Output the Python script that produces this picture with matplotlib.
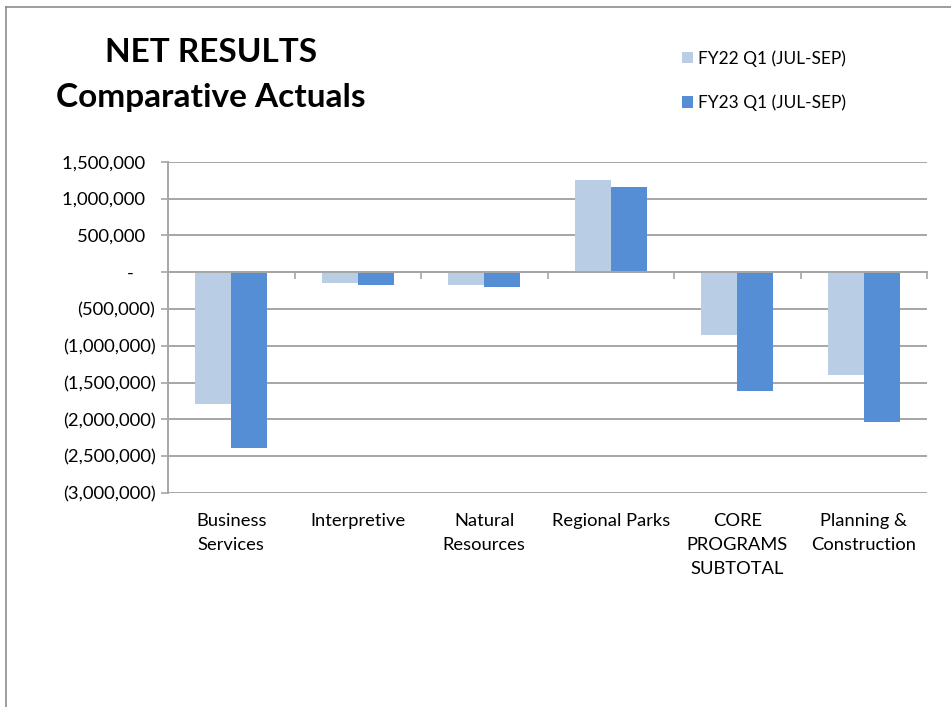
import matplotlib
matplotlib.use("Agg")
import matplotlib.pyplot as plt
from matplotlib.patches import Patch
from matplotlib.lines import Line2D
from matplotlib.ticker import FuncFormatter
import matplotlib.transforms as mtransforms
import numpy as np

categories = ["Business\nServices", "Interpretive", "Natural\nResources",
              "Regional Parks", "CORE\nPROGRAMS\nSUBTOTAL", "Planning &\nConstruction"]
fy22 = [-1790000, -150000, -180000, 1250000, -860000, -1400000]
fy23 = [-2395000, -175000, -200000, 1150000, -1620000, -2030000]
series_labels = ["FY22 Q1 (JUL-SEP)", "FY23 Q1 (JUL-SEP)"]
yticks = [1500000, 1000000, 500000, 0, -500000, -1000000, -1500000,
          -2000000, -2500000, -3000000]

c22 = "#B9CDE5"
c23 = "#558ED5"
grid_c = "#A6A6A6"
FONT = "Lato"
plt.rcParams['font.family'] = [FONT, 'DejaVu Sans']

W, H = 951, 707
fig = plt.figure(figsize=(W / 100, H / 100), dpi=100)
ax = fig.add_axes([168 / W, 1 - 493 / H, (927 - 168) / W, (493 - 161.7) / H])

x = np.arange(len(categories))
bw = 0.285
ax.bar(x - bw / 2, fy22, bw, color=c22, zorder=3)
ax.bar(x + bw / 2, fy23, bw, color=c23, zorder=3)

ax.set_xlim(-0.5, len(categories) - 0.5)
ax.set_ylim(-3000000, 1500000)
ax.set_yticks(yticks)


def fmt(v, pos):
    if v > 0:
        return f"{v:,.0f}\u2007"
    if v < 0:
        return f"({-v:,.0f})"
    return "-\u2007\u2007"


ax.yaxis.set_major_formatter(FuncFormatter(fmt))
ax.yaxis.grid(True, color=grid_c, linewidth=1.4, zorder=0)
ax.tick_params(axis='y', length=5, width=1.2, color=grid_c, labelsize=13.3,
               pad=4, labelcolor="#000000")

for s in ["top", "right"]:
    ax.spines[s].set_visible(False)
ax.spines["left"].set_color(grid_c)
ax.spines["left"].set_linewidth(1.4)
ax.spines["bottom"].set_position(("data", 0))
ax.spines["bottom"].set_color(grid_c)
ax.spines["bottom"].set_linewidth(1.4)
ax.spines["bottom"].set_zorder(4)
ax.set_xticks(np.arange(-0.5, len(categories), 1.0))
ax.set_xticklabels([])
ax.tick_params(axis='x', length=5, width=1.2, color=grid_c, direction='out')

trans = mtransforms.blended_transform_factory(ax.transData, ax.transAxes)
for i, lab in enumerate(categories):
    ax.text(i, -0.061, lab, transform=trans, ha='center', va='top',
            fontsize=13.2, linespacing=1.62, color="#000000")

# Title
fig.text(211 / W, 1 - 53 / H, "NET RESULTS", ha='center', va='center',
         fontsize=24, fontweight='bold', color="#000000")
fig.text(211 / W, 1 - 98 / H, "Comparative Actuals", ha='center', va='center',
         fontsize=24, fontweight='bold', color="#000000")

handles = [Patch(facecolor=c22), Patch(facecolor=c23)]
fig.legend(handles, series_labels, loc='upper left',
           bbox_to_anchor=(682 / W, 1 - 50 / H), frameon=False,
           fontsize=12.5, handlelength=0.65, handleheight=0.65,
           handletextpad=0.3, labelspacing=1.62, borderaxespad=0, borderpad=0)

# Outer border (top and left)
fig.add_artist(Line2D([6 / W, 1], [1 - 7 / H, 1 - 7 / H], transform=fig.transFigure,
                      color="#8C8C8C", linewidth=1.2))
fig.add_artist(Line2D([6 / W, 6 / W], [0, 1 - 7 / H], transform=fig.transFigure,
                      color="#8C8C8C", linewidth=1.2))

fig.savefig("out.png", dpi=100, facecolor="white")
